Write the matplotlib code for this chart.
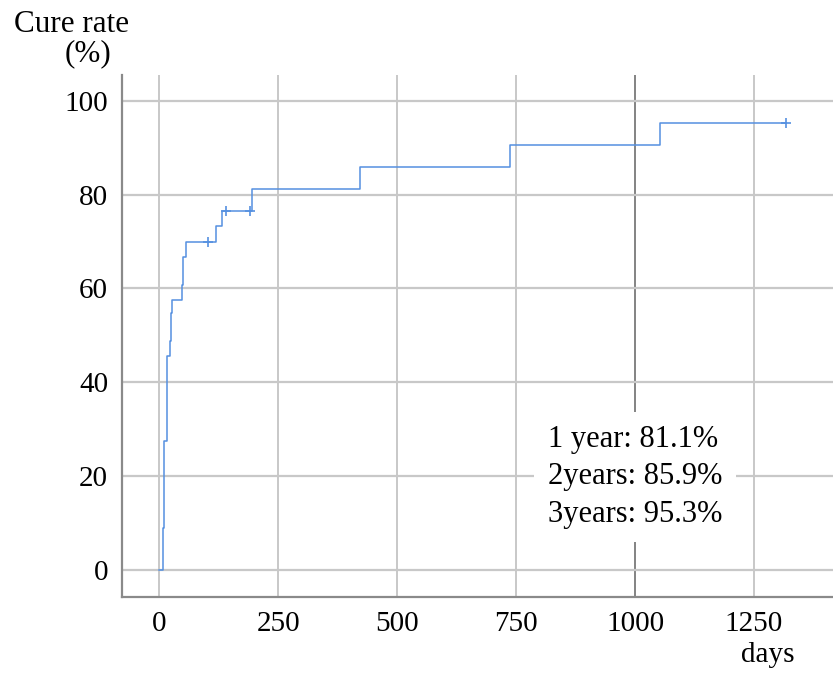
# Cumulative cure rate (Kaplan-Meier style step curve)

import matplotlib
matplotlib.use('Agg')
import matplotlib.pyplot as plt

plt.rcParams['font.family'] = ['Liberation Serif', 'DejaVu Serif']

days = [0, 8, 11, 16, 22, 25, 27, 48, 50, 57, 120, 132, 196, 423, 737, 1052, 1317]
cure_rate = [0, 8.9, 27.4, 45.5, 48.7, 54.8, 57.6, 60.8, 66.7, 69.8, 73.2, 76.5,
             81.1, 85.9, 90.6, 95.3, 95.3]
censor_days = [102, 140, 190, 1317]
censor_rate = [69.8, 76.5, 76.5, 95.3]
x_ticks = [0, 250, 500, 750, 1000, 1250]
y_ticks = [0, 20, 40, 60, 80, 100]
summary = ['1 year: 81.1%', '2years: 85.9%', '3years: 95.3%']

fig = plt.figure(figsize=(8.33, 6.73), dpi=100)
ax = fig.add_axes([0.1465, 0.1129, 0.8535, 0.7757])

line_color = '#5590e0'
ax.step(days, cure_rate, where='post', color=line_color, lw=1.1, zorder=3)
ax.plot(censor_days, censor_rate, '+', color=line_color, ms=7, mew=1.2, zorder=3)

ax.set_xlim(-78, 1416)
ax.set_ylim(-5.8, 105.5)
ax.set_xticks(x_ticks)
ax.set_yticks(y_ticks)
ax.tick_params(length=0, labelsize=21, pad=10)

for x in x_ticks:
    ax.axvline(x, color='#7a7a7a' if x == 1000 else '#c4c4c4', lw=1.3, zorder=1)
for y in y_ticks:
    ax.axhline(y, color='#c8c8c8', lw=1.6, zorder=1)

for side in ['top', 'right']:
    ax.spines[side].set_visible(False)
for side in ['left', 'bottom']:
    ax.spines[side].set_color('#8a8a8a')
    ax.spines[side].set_linewidth(1.6)

ax.text(817, 19.8, '\n'.join(summary), fontsize=22, ha='left', va='center',
        linespacing=1.37, zorder=4,
        bbox=dict(boxstyle='square,pad=0.45', fc='white', ec='none'))

fig.text(71.5 / 833, 1 - 24 / 673, 'Cure rate', fontsize=22.4, ha='center', va='center')
fig.text(87.5 / 833, 1 - 54 / 673, '(%)', fontsize=22.4, ha='center', va='center')
fig.text(768 / 833, 1 - 655 / 673, 'days', fontsize=21, ha='center', va='center')

fig.savefig('out.png', dpi=100)
